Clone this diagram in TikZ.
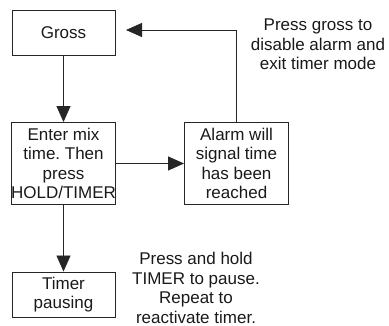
\documentclass[tikz,border=0pt]{standalone}
\usepackage{fontspec}
\setmainfont{Liberation Sans}
\usetikzlibrary{arrows.meta}
\frenchspacing
\begin{document}
\begin{tikzpicture}[x=1pt,y=-1pt,
  box/.style={draw=black!85, line width=0.9pt, rectangle, inner sep=0pt, align=center,
    font=\fontsize{17}{19.4}\selectfont, text=black!90},
  note/.style={inner sep=0pt, align=center, font=\fontsize{17}{19.4}\selectfont, text=black!90},
  link/.style={draw=black!85, line width=0.9pt, -{Triangle[length=16pt,width=14pt]}}]
\useasboundingbox (0,0) rectangle (389,326);
\node[box, minimum width=103pt, minimum height=45pt] (gross) at (63.5,32.5) {Gross};
\node[box, minimum width=103pt, minimum height=82pt] (enter) at (63.5,163.5) {Enter mix\\time. Then\\press\\HOLD/TIMER};
\node[box, minimum width=104pt, minimum height=82pt] (alarm) at (236.5,163.5) {Alarm will\\signal time\\has been\\reached};
\node[box, minimum width=103pt, minimum height=45pt] (timer) at (63.5,294.5) {Timer\\pausing};
\node[note] (note1) at (318,44.5) {Press gross to\\disable alarm and\\exit timer mode};
\node[note] (note2) at (196,288) {Press and hold\\TIMER to pause.\\Repeat to\\reactivate timer.};
\coordinate (tip) at (126,30);
\draw[link] (gross) -- (enter);
\draw[link] (enter) -- (timer);
\draw[link] (enter) -- (alarm);
\draw[link] (alarm.north) |- (tip);
\end{tikzpicture}
\end{document}
